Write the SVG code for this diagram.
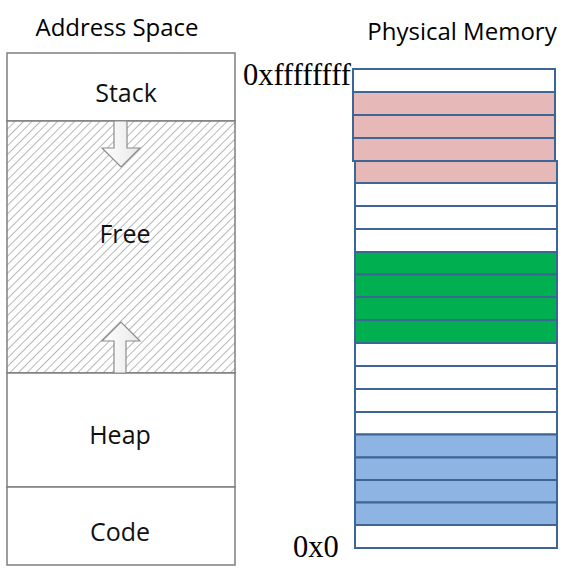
<svg xmlns="http://www.w3.org/2000/svg" width="568" height="578" viewBox="0 0 568 578">
<style>
.hdr{font-family:"Open Sans","Liberation Sans",sans-serif;font-size:24px;fill:#000;text-anchor:middle}
.lbl{font-family:"Open Sans","Liberation Sans",sans-serif;font-size:25px;fill:#111;text-anchor:middle}
.addr{font-family:"Liberation Serif","Times New Roman",serif;font-size:30.5px;fill:#000}
.seg{fill:#fff;stroke:#7f7f7f;stroke-width:1.5}
.arrow{fill:url(#ag);stroke:#8c8c8c;stroke-width:1.2}
.row{stroke:#3d6596;stroke-width:2}
.w{fill:#fff}.p{fill:#e6b9b8}.g{fill:#00b050}.b{fill:#8eb4e3}
</style>
<defs>
<pattern id="hatch" patternUnits="userSpaceOnUse" width="6" height="6" patternTransform="rotate(45)">
<rect width="6" height="6" fill="#fff"/>
<line x1="0" y1="0" x2="0" y2="6" stroke="#a0a0a0" stroke-width="1.5"/>
</pattern>
<linearGradient id="ag" x1="0" y1="0" x2="1" y2="0">
<stop offset="0" stop-color="#ffffff"/>
<stop offset="1" stop-color="#e8e8e8"/>
</linearGradient>
</defs>

<text class="hdr" x="117" y="36">Address Space</text>
<text class="hdr" x="462" y="40">Physical Memory</text>

<g id="stack"><rect class="seg" x="7" y="53" width="228" height="68"/><text class="lbl" x="126" y="102">Stack</text></g>
<g id="free"><rect class="seg" x="7" y="121" width="228" height="252" style="fill:url(#hatch)"/><text class="lbl" x="125" y="243">Free</text></g>
<g id="heap"><rect class="seg" x="7" y="373" width="228" height="114"/><text class="lbl" x="120" y="444">Heap</text></g>
<g id="code"><rect class="seg" x="7" y="487" width="228" height="78"/><text class="lbl" x="120" y="541">Code</text></g>

<g id="connectors">
<polygon class="arrow" points="114,121 127,121 127,148 140,148 121,167 102,148 114,148"/>
<polygon class="arrow" points="114,373 126,373 126,341 140,341 121,322 102,341 114,341"/>
</g>

<g id="memory">
<rect class="row w" x="353" y="69" width="202" height="23"/>
<rect class="row p" x="353" y="92" width="202" height="23"/>
<rect class="row p" x="353" y="115" width="202" height="23"/>
<rect class="row p" x="353" y="138" width="202" height="23"/>
<rect class="row p" x="355" y="161" width="202" height="22"/>
<rect class="row w" x="355" y="183" width="202" height="23"/>
<rect class="row w" x="355" y="206" width="202" height="23"/>
<rect class="row w" x="355" y="229" width="202" height="23"/>
<rect class="row g" x="355" y="252" width="202" height="22.5"/>
<rect class="row g" x="355" y="274.5" width="202" height="22.5"/>
<rect class="row g" x="355" y="297" width="202" height="23"/>
<rect class="row g" x="355" y="320" width="202" height="23"/>
<rect class="row w" x="355" y="343" width="202" height="23"/>
<rect class="row w" x="355" y="366" width="202" height="23"/>
<rect class="row w" x="355" y="389" width="202" height="23"/>
<rect class="row w" x="355" y="412" width="202" height="22.5"/>
<rect class="row b" x="355" y="434.5" width="202" height="23"/>
<rect class="row b" x="355" y="457.5" width="202" height="22.5"/>
<rect class="row b" x="355" y="480" width="202" height="22.5"/>
<rect class="row b" x="355" y="502.5" width="202" height="22.5"/>
<rect class="row w" x="355" y="525" width="202" height="23"/>
</g>

<text class="addr" x="243" y="85">0xffffffff</text>
<text class="addr" x="293" y="557">0x0</text>
</svg>
